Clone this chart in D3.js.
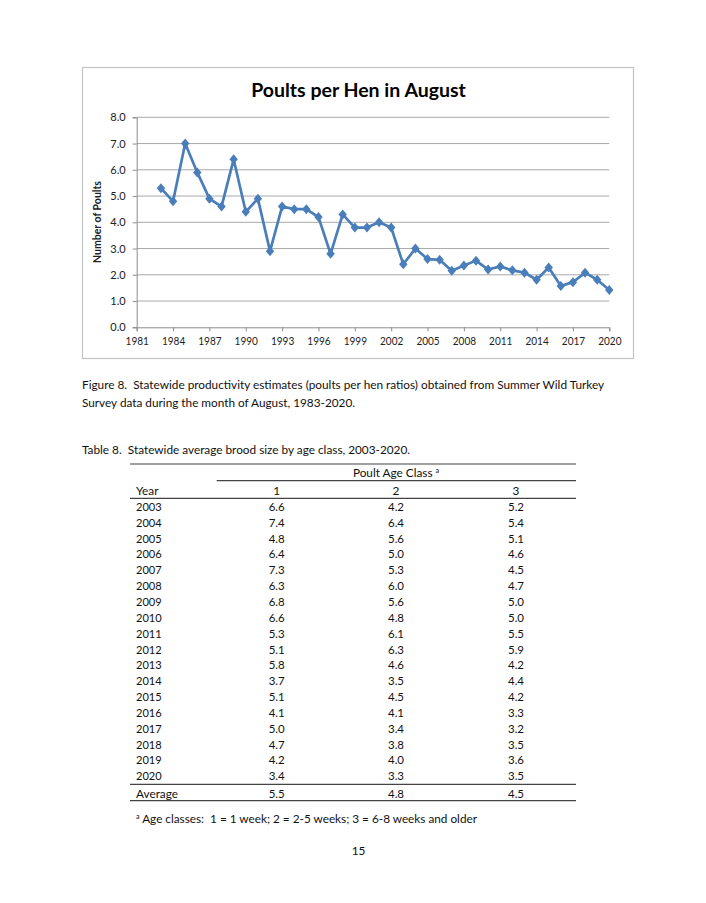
<!DOCTYPE html>
<html><head><meta charset="utf-8">
<script src="https://cdn.jsdelivr.net/npm/d3@7"></script>
<style>body{margin:0;background:#fff} svg{display:block} text{white-space:pre}</style>
</head><body><svg id="c" width="706" height="903"></svg>
<script>
// ---- data ----
const years = [1983,1984,1985,1986,1987,1988,1989,1990,1991,1992,1993,1994,1995,1996,1997,1998,1999,2000,2001,2002,2003,2004,2005,2006,2007,2008,2009,2010,2011,2012,2013,2014,2015,2016,2017,2018,2019,2020];
const poultsPerHen = [5.3,4.8,7.0,5.9,4.9,4.6,6.4,4.4,4.9,2.9,4.6,4.5,4.5,4.2,2.8,4.3,3.8,3.8,4.0,3.8,2.4,3.0,2.6,2.57,2.15,2.35,2.54,2.2,2.32,2.17,2.08,1.81,2.28,1.57,1.72,2.08,1.81,1.42];
const yTicks = [0,1,2,3,4,5,6,7,8];
const xTicks = [1981,1984,1987,1990,1993,1996,1999,2002,2005,2008,2011,2014,2017,2020];
const tableYears = ["2003","2004","2005","2006","2007","2008","2009","2010","2011","2012","2013","2014","2015","2016","2017","2018","2019","2020"];
const ageClass1 = ["6.6","7.4","4.8","6.4","7.3","6.3","6.8","6.6","5.3","5.1","5.8","3.7","5.1","4.1","5.0","4.7","4.2","3.4"];
const ageClass2 = ["4.2","6.4","5.6","5.0","5.3","6.0","5.6","4.8","6.1","6.3","4.6","3.5","4.5","4.1","3.4","3.8","4.0","3.3"];
const ageClass3 = ["5.2","5.4","5.1","4.6","4.5","4.7","5.0","5.0","5.5","5.9","4.2","4.4","4.2","3.3","3.2","3.5","3.6","3.5"];
const averages = ["5.5","4.8","4.5"];
const columnHeaders = ["1","2","3"];

const FONT = "Lato, 'Open Sans', sans-serif";
const svg = d3.select("#c");
// condense a text to a given length (Calibri-like proportions)
function squeeze(sel, target){
  const w = sel.node().getComputedTextLength();
  if (w > target) sel.attr("textLength", target).attr("lengthAdjust","spacingAndGlyphs");
  return sel;
}

// ---- chart frame ----
svg.append("rect").attr("x",82.5).attr("y",67.5).attr("width",551).attr("height",291)
  .attr("fill","#fff").attr("stroke","#c4c4c4").attr("stroke-width",1.2);

const x = d3.scaleLinear().domain([1981,2020]).range([136.7,609.3]);
const y = d3.scaleLinear().domain([0,8]).range([327.3,117.3]);

// gridlines
svg.append("g").selectAll("line").data(yTicks.filter(d=>d>0)).join("line")
  .attr("x1",x(1981)).attr("x2",x(2020)).attr("y1",d=>y(d)).attr("y2",d=>y(d))
  .attr("stroke","#a9a9a9").attr("stroke-width",1);

const tickFs = 11;

// y axis
const yAxis = svg.append("g").attr("transform",`translate(${x(1981)},0)`)
  .call(d3.axisLeft(y).tickValues(yTicks).tickFormat(d3.format(".1f")).tickSize(4).tickPadding(7));
yAxis.select(".domain").attr("stroke","#8c8c8c");
yAxis.selectAll(".tick line").attr("stroke","#8c8c8c");
yAxis.selectAll("text").attr("font-family",FONT).attr("font-size",tickFs).attr("fill","#222")
  .each(function(){ squeeze(d3.select(this),18.5); });

// x axis
const xAxis = svg.append("g").attr("transform",`translate(0,${y(0)})`)
  .call(d3.axisBottom(x).tickValues(xTicks).tickFormat(d3.format("d")).tickSize(4).tickPadding(6));
xAxis.select(".domain").attr("stroke","#8c8c8c");
xAxis.selectAll(".tick line").attr("stroke","#8c8c8c");
xAxis.selectAll("text").attr("font-family",FONT).attr("font-size",tickFs).attr("fill","#222")
  .each(function(){ squeeze(d3.select(this),23.3); });

// line
const pts = years.map((yr,i)=>[yr,poultsPerHen[i]]);
svg.append("path").datum(pts)
  .attr("d",d3.line().x(d=>x(d[0])).y(d=>y(d[1])))
  .attr("fill","none").attr("stroke","#4a7ebb").attr("stroke-width",2.7).attr("stroke-linejoin","round");
svg.append("g").selectAll("path").data(pts).join("path")
  .attr("transform",d=>`translate(${x(d[0])},${y(d[1])})`)
  .attr("d","M0,-5L4.2,0L0,5L-4.2,0Z").attr("fill","#4a7ebb");

// titles
const t = svg.append("text").attr("x",358.5).attr("y",96.5).attr("text-anchor","middle")
  .attr("font-family",FONT).attr("font-weight","bold").attr("font-size",19.5).attr("fill","#000")
  .text("Poults per Hen in August");
squeeze(t,217);
const yt = svg.append("text").attr("transform","translate(101,222) rotate(-90)").attr("text-anchor","middle")
  .attr("font-family",FONT).attr("font-weight","bold").attr("font-size",10.5).attr("fill","#222")
  .text("Number of Poults");
squeeze(yt,87);

// ---- captions ----
const body = "#111";
const bfs = 11.8;
const line = (xx,yy,txt,len)=>squeeze(svg.append("text").attr("x",xx).attr("y",yy).attr("font-family",FONT)
  .attr("font-size",bfs).attr("fill",body).text(txt), len);
line(82,388.5,"Figure 8.  Statewide productivity estimates (poults per hen ratios) obtained from Summer Wild Turkey",530);
line(82,406.5,"Survey data during the month of August, 1983-2020.",273);
line(82,453.5,"Table 8.  Statewide average brood size by age class, 2003-2020.",333);

// ---- table ----
const colX = [276.7,396,516];
const rule = (x1,x2,yy)=>svg.append("line").attr("x1",x1).attr("x2",x2).attr("y1",yy).attr("y2",yy)
  .attr("stroke","#444").attr("stroke-width",1.2);
rule(130,576,464);
rule(216.7,576,480.7);
rule(130,576,498.3);
rule(130,576,784.3);
rule(130,576,800.7);

const hdr = svg.append("text").attr("x",396).attr("y",472.5).attr("dy","0.35em").attr("text-anchor","middle")
  .attr("font-family",FONT).attr("font-size",bfs).attr("fill",body);
hdr.append("tspan").text("Poult Age Class ");
hdr.append("tspan").attr("font-size",bfs*0.6).attr("dy",-4).text("a");
squeeze(hdr, 92);

const rowY = i => 506.7 + i*15.84;
const cellText = (xx,yy,txt,anchor)=>svg.append("text").attr("x",xx).attr("y",yy).attr("dy","0.36em")
  .attr("text-anchor",anchor).attr("font-family",FONT).attr("font-size",bfs).attr("fill",body).text(txt);
squeeze(cellText(136,490.7,"Year","start"),25);
columnHeaders.forEach((h,j)=>cellText(colX[j],490.7,h,"middle"));
const cols = [ageClass1,ageClass2,ageClass3];
tableYears.forEach((yr,i)=>{
  squeeze(cellText(136,rowY(i),yr,"start"),25.7);
  cols.forEach((c,j)=>squeeze(cellText(colX[j],rowY(i),c[i],"middle"),16));
});
squeeze(cellText(136,793.3,"Average","start"),42);
averages.forEach((a,j)=>squeeze(cellText(colX[j],793.3,a,"middle"),16));

// footnote
const fn = svg.append("text").attr("x",136).attr("y",823).attr("font-family",FONT).attr("font-size",bfs).attr("fill",body);
fn.append("tspan").attr("font-size",bfs*0.6).attr("dy",-4).text("a");
fn.append("tspan").attr("dy",4).text(" Age classes:  1 = 1 week; 2 = 2-5 weeks; 3 = 6-8 weeks and older");
squeeze(fn,341);

svg.append("text").attr("x",358.5).attr("y",855).attr("text-anchor","middle").attr("font-family",FONT)
  .attr("font-size",bfs).attr("fill",body).text("15");
</script></body></html>
